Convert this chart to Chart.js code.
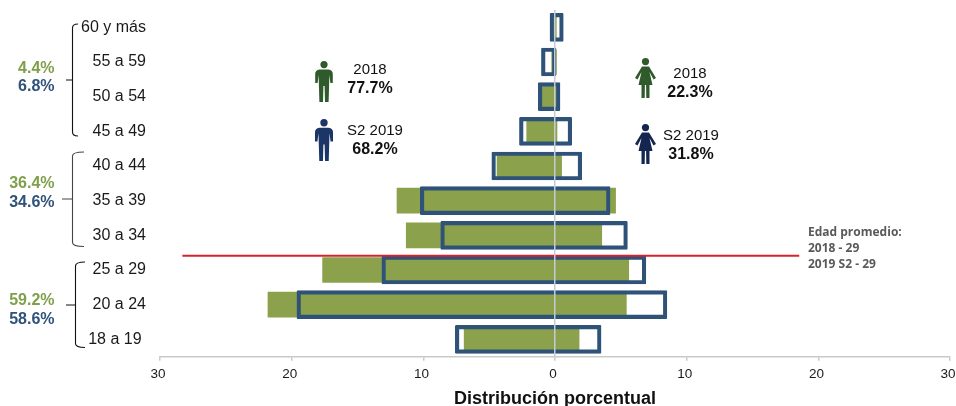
<!DOCTYPE html>
<html>
<head>
<meta charset="utf-8">
<title>Distribución porcentual</title>
<script src="https://cdn.jsdelivr.net/npm/chart.js@4"></script>
<style>
  html, body { margin: 0; padding: 0; background: #fff; overflow: hidden; }
  canvas { display: block; }
</style>
</head>
<body>
<canvas id="grafico" width="956" height="406"></canvas>
<script>
const edades = ['60 y más', '55 a 59', '50 a 54', '45 a 49', '40 a 44', '35 a 39', '30 a 34', '25 a 29', '20 a 24', '18 a 19'];
const hombres2018 = [-0.2, -0.25, -1.0, -2.15, -4.4, -12.0, -11.3, -17.65, -21.8, -6.9];
const mujeres2018 = [0.1, 0.1, 0.3, 0.15, 0.5, 4.6, 3.55, 5.6, 5.42, 1.83];
const hombres2019 = [-0.38, -1.03, -1.27, -2.7, -4.8, -10.23, -8.68, -13.15, -19.6, -7.57];
const mujeres2019 = [0.63, 0.08, 0.38, 1.27, 2.03, 4.18, 5.5, 6.9, 8.5, 3.5];
const ticksX = [-30, -20, -10, 0, 10, 20, 30];

// linea de edad promedio: de x=-28.3 a x=18.55, entre las filas 6 y 7
const lineaEdad = { desde: -28.3, hasta: 18.55, fila: 6.59 };

const verde = '#8ba14c';
const azul = '#2f5279';

const grupos = [
    { verde: '4.4%', azul: '6.8%', y1: 68.5, y2: 86.5, x: 72.5, top: 24, bottom: 136, tip: 80, tipX: 66, fin: 78, color: '#111' },
    { verde: '36.4%', azul: '34.6%', y1: 183.5, y2: 202.5, x: 72.5, top: 152, bottom: 246.5, tip: 199, tipX: 62, fin: 84, color: '#444' },
    { verde: '59.2%', azul: '58.6%', y1: 300.5, y2: 319.5, x: 75.5, top: 262, bottom: 347.5, tip: 305, tipX: 66, fin: 85, color: '#111' }
];

const personas = [
    { tipo: 'h', x: 324, y: 61, alto: 41, color: '#2f5a2b', anio: '2018', pct: '77.7%', tx: 370, ty1: 70, ty2: 89 },
    { tipo: 'h', x: 324, y: 119, alto: 42, color: '#1b3566', anio: 'S2 2019', pct: '68.2%', tx: 375, ty1: 131, ty2: 150 },
    { tipo: 'm', x: 645.5, y: 58, alto: 40, color: '#2f5a2b', anio: '2018', pct: '22.3%', tx: 690, ty1: 74, ty2: 93 },
    { tipo: 'm', x: 645.5, y: 124, alto: 40, color: '#14264f', anio: 'S2 2019', pct: '31.8%', tx: 691, ty1: 136, ty2: 155 }
];

const notaEdad = ['Edad promedio:', '2018 - 29', '2019 S2 - 29'];

function dibujarHombre(c, p) {
    const k = p.alto / 41;
    c.save();
    c.translate(p.x, p.y);
    c.scale(k, k);
    c.fillStyle = p.color;
    c.beginPath();
    c.arc(0, 3.6, 3.6, 0, Math.PI * 2);
    c.fill();
    c.beginPath();
    c.moveTo(-4.5, 8.5);
    c.lineTo(4.5, 8.5);
    c.quadraticCurveTo(8.8, 9, 8.8, 13);
    c.lineTo(8.8, 22);
    c.lineTo(6.4, 22);
    c.lineTo(5.4, 14);
    c.lineTo(4.6, 41);
    c.lineTo(1, 41);
    c.lineTo(0.6, 25);
    c.lineTo(-0.6, 25);
    c.lineTo(-1, 41);
    c.lineTo(-4.6, 41);
    c.lineTo(-5.4, 14);
    c.lineTo(-6.4, 22);
    c.lineTo(-8.8, 22);
    c.lineTo(-8.8, 13);
    c.quadraticCurveTo(-8.8, 9, -4.5, 8.5);
    c.closePath();
    c.fill();
    c.restore();
}

function dibujarMujer(c, p) {
    const k = p.alto / 40;
    c.save();
    c.translate(p.x, p.y);
    c.scale(k, k);
    c.fillStyle = p.color;
    c.beginPath();
    c.arc(0, 3.6, 3.6, 0, Math.PI * 2);
    c.fill();
    c.beginPath();
    c.moveTo(-3.5, 8.5);
    c.lineTo(3.5, 8.5);
    c.lineTo(10.5, 20);
    c.lineTo(8, 21.5);
    c.lineTo(4, 14);
    c.lineTo(7, 27);
    c.lineTo(4, 27);
    c.lineTo(4, 40);
    c.lineTo(0.8, 40);
    c.lineTo(0.6, 27);
    c.lineTo(-0.6, 27);
    c.lineTo(-0.8, 40);
    c.lineTo(-4, 40);
    c.lineTo(-4, 27);
    c.lineTo(-7, 27);
    c.lineTo(-4, 14);
    c.lineTo(-8, 21.5);
    c.lineTo(-10.5, 20);
    c.closePath();
    c.fill();
    c.restore();
}

const anotaciones = {
    id: 'anotaciones',
    afterDatasetsDraw(chart) {
        const c = chart.ctx;
        const x = chart.scales.x;
        const y = chart.scales.y;

        // linea roja de edad promedio
        c.save();
        c.strokeStyle = '#d7222c';
        c.lineWidth = 2;
        c.beginPath();
        c.moveTo(x.getPixelForValue(lineaEdad.desde), y.getPixelForValue(lineaEdad.fila));
        c.lineTo(x.getPixelForValue(lineaEdad.hasta), y.getPixelForValue(lineaEdad.fila));
        c.stroke();

        // llaves y porcentajes por grupo de edad
        grupos.forEach(g => {
            c.strokeStyle = g.color;
            c.lineWidth = 1.1;
            c.beginPath();
            c.moveTo(g.fin, g.top);
            c.quadraticCurveTo(g.x, g.top, g.x, g.top + 4);
            c.lineTo(g.x, g.bottom - 4);
            c.quadraticCurveTo(g.x, g.bottom, g.fin, g.bottom);
            c.moveTo(g.tipX, g.tip);
            c.lineTo(g.x, g.tip);
            c.stroke();

            c.font = 'bold 16px "Liberation Sans", Arial, sans-serif';
            c.textAlign = 'right';
            c.textBaseline = 'middle';
            c.fillStyle = '#7f9f4a';
            c.fillText(g.verde, 54.5, g.y1);
            c.fillStyle = '#2f5279';
            c.fillText(g.azul, 54.5, g.y2);
        });

        // figuras con su anio y porcentaje
        personas.forEach(p => {
            if (p.tipo === 'h') dibujarHombre(c, p);
            else dibujarMujer(c, p);
            c.textAlign = 'center';
            c.textBaseline = 'middle';
            c.fillStyle = '#111';
            c.font = '15px "Liberation Sans", Arial, sans-serif';
            c.fillText(p.anio, p.tx, p.ty1);
            c.font = 'bold 16px "Liberation Sans", Arial, sans-serif';
            c.fillText(p.pct, p.tx, p.ty2);
        });

        // nota
        c.font = 'bold 12px "Open Sans", sans-serif';
        c.textAlign = 'left';
        c.fillStyle = '#58595b';
        notaEdad.forEach((t, i) => c.fillText(t, 808, 232.5 + i * 16));
        c.restore();
    }
};

let ctx = document.getElementById('grafico').getContext('2d');

let miGrafico = new Chart(ctx, {
    type: 'bar',
    data: {
        labels: edades,
        datasets: [
            {
                label: 'S2 2019',
                data: edades.map((e, i) => [hombres2019[i], mujeres2019[i]]),
                backgroundColor: 'rgba(0,0,0,0)',
                borderColor: azul,
                borderWidth: 3.5,
                borderSkipped: false,
                borderRadius: 1,
                barThickness: 28,
                grouped: false,
                order: 1
            },
            {
                label: '2018',
                data: edades.map((e, i) => [hombres2018[i], mujeres2018[i]]),
                backgroundColor: verde,
                borderWidth: 0,
                barThickness: 25,
                grouped: false,
                order: 2
            }
        ]
    },
    options: {
        indexAxis: 'y',
        responsive: false,
        animation: false,
        layout: { padding: { top: 10, right: 6, bottom: 0, left: 0 } },
        plugins: { legend: { display: false }, tooltip: { enabled: false } },
        scales: {
            x: {
                min: -30,
                max: 30,
                afterFit(s) { s.paddingRight = 0; s.paddingLeft = 0; },
                afterBuildTicks(s) { s.ticks = ticksX.map(v => ({ value: v })); },
                // el borde se dibuja despues de la grilla, que va sobre las barras
                border: { display: true, color: '#c9c9c9', width: 1.5, z: 2 },
                grid: {
                    z: 1,
                    lineWidth: 1.5,
                    color: c => c.tick && c.tick.value === 0 ? '#c6ccd6' : 'rgba(0,0,0,0)',
                    tickColor: '#c9c9c9',
                    tickWidth: 1.5,
                    tickLength: 4
                },
                ticks: {
                    callback: v => Math.abs(v) + '\u00a0',
                    color: '#1a1a1a',
                    font: { family: '"Liberation Sans", Arial, sans-serif', size: 13.5 },
                    maxRotation: 0,
                    padding: 5
                },
                title: {
                    display: true,
                    text: 'Distribución porcentual',
                    color: '#111',
                    font: { family: '"Liberation Sans", Arial, sans-serif', size: 18, weight: 'bold' },
                    padding: { top: 1.5, bottom: -4 }
                }
            },
            y: {
                afterFit(s) { s.width = 160; s.paddingTop = 0; s.paddingBottom = 0; },
                border: { display: false },
                grid: { display: false },
                ticks: {
                    autoSkip: false,
                    callback(v, i) {
                        const t = this.getLabelForValue(v);
                        return i === edades.length - 1 ? t + '\u00a0' : t;
                    },
                    color: '#1a1a1a',
                    font: { family: '"Liberation Sans", Arial, sans-serif', size: 16 },
                    padding: 6
                }
            }
        }
    },
    plugins: [anotaciones]
});
</script>
</body>
</html>
